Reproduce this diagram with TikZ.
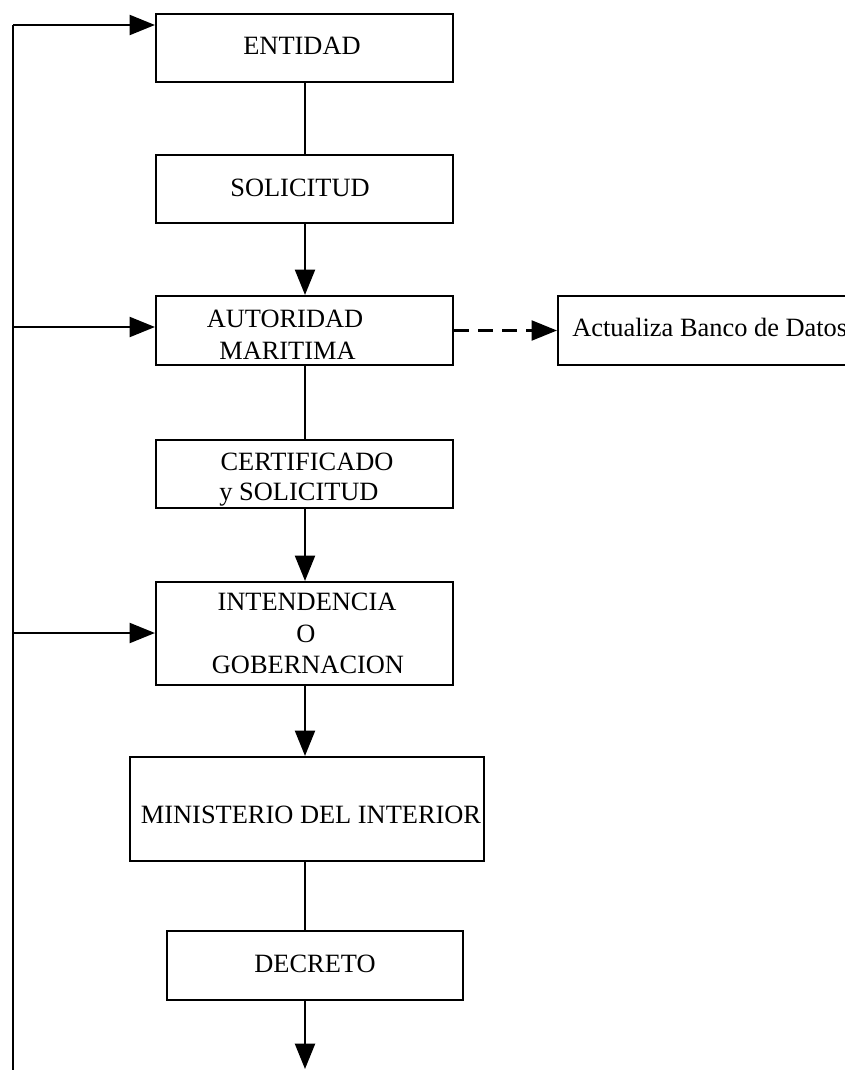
\documentclass[tikz,border=0pt]{standalone}
\usepackage{fontspec}
\setmainfont{Liberation Serif}
\usetikzlibrary{arrows.meta}
\begin{document}
\begin{tikzpicture}[x=0.75pt,y=-0.75pt,
  box/.style={draw=black,line width=1.6pt,rectangle,inner sep=0pt},
  txt/.style={anchor=base,inner sep=0pt,font=\fontsize{19.8pt}{24pt}\selectfont},
  ln/.style={line width=1.6pt},
  arr/.style={line width=1.6pt,-{Triangle[length=19pt,width=15pt]}},
  darr/.style={arr,dash pattern=on 11pt off 7pt}]
\useasboundingbox (0,0) rectangle (845,1070);
% boxes
\node[box,minimum width=297*0.75pt,minimum height=68*0.75pt] (ent) at (304.5,48) {};
\node[box,minimum width=297*0.75pt,minimum height=68*0.75pt] (sol) at (304.5,189) {};
\node[box,minimum width=297*0.75pt,minimum height=69*0.75pt] (aut) at (304.5,330.5) {};
\node[box,minimum width=297*0.75pt,minimum height=68*0.75pt] (cer) at (304.5,474) {};
\node[box,minimum width=297*0.75pt,minimum height=103*0.75pt] (int) at (304.5,633.5) {};
\node[box,minimum width=354*0.75pt,minimum height=104*0.75pt] (min) at (307,809) {};
\node[box,minimum width=296*0.75pt,minimum height=69*0.75pt] (dec) at (315,965.5) {};
\node[box,minimum width=360*0.75pt,minimum height=69*0.75pt] (act) at (738,330.5) {};
% texts
\node[txt] (tent) at (302,55) {ENTIDAD};
\node[txt] (tsol) at (300,196) {SOLICITUD};
\node[txt] (taut1) at (285,327) {AUTORIDAD};
\node[txt] (taut2) at (287.5,359) {MARITIMA};
\node[txt] (tcer1) at (307,470) {CERTIFICADO};
\node[txt] (tcer2) at (299,500) {y SOLICITUD};
\node[txt] (tint1) at (307,610) {INTENDENCIA};
\node[txt] (tint2) at (306,642) {O};
\node[txt] (tint3) at (308,673) {GOBERNACION};
\node[txt] (tmin) at (311,823) {MINISTERIO DEL INTERIOR};
\node[txt] (tdec) at (315,972) {DECRETO};
\node[txt,anchor=base west] (tact) at (572,336) {Actualiza Banco de Datos};
% coordinates
\coordinate (cx) at (305,0);
\coordinate (l1) at (13,25);
\coordinate (l2) at (13,327);
\coordinate (l3) at (13,633);
\coordinate (lb) at (13,1070);
\coordinate (endb) at (305,1069);
% vertical chain
\draw[ln] (ent.south -| cx) -- (sol.north -| cx);
\draw[arr] (sol.south -| cx) -- (aut.north -| cx);
\draw[ln] (aut.south -| cx) -- (cer.north -| cx);
\draw[arr] (cer.south -| cx) -- (int.north -| cx);
\draw[arr] (int.south -| cx) -- (min.north -| cx);
\draw[ln] (min.south -| cx) -- (dec.north -| cx);
\draw[arr] (dec.south -| cx) -- (endb);
% left feedback line
\draw[ln] (lb) -- (l1);
\draw[arr] (l1) -- (l1 -| ent.west);
\draw[arr] (l2) -- (l2 -| aut.west);
\draw[arr] (l3) -- (l3 -| int.west);
% dashed
\draw[darr] (aut.east |- act.west) -- (act.west);
\end{tikzpicture}
\end{document}
